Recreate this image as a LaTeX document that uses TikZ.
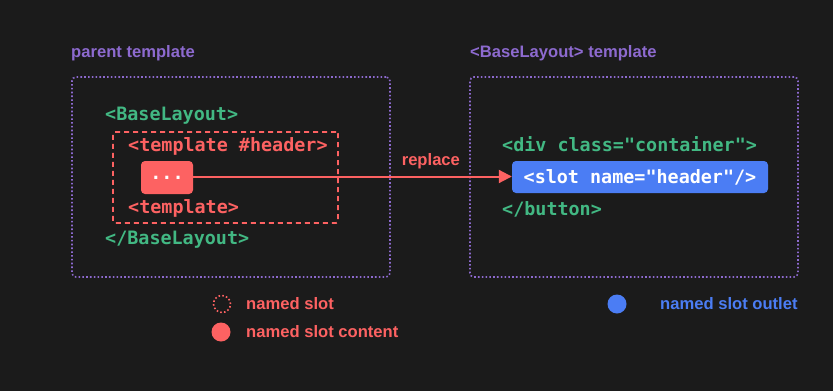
\documentclass[tikz,border=0pt]{standalone}
\usepackage{fontspec}
\setmainfont{Liberation Sans}
\newfontfamily\codefont{DejaVu Sans Mono}
\usetikzlibrary{arrows.meta}

\definecolor{bg}{HTML}{1B1B1B}
\definecolor{vuepurple}{HTML}{8D6ACF}
\definecolor{vuegreen}{HTML}{42B883}
\definecolor{slotred}{HTML}{FD6262}
\definecolor{slotblue}{HTML}{4B7DF4}

\begin{document}
\begin{tikzpicture}[x=1pt, y=-1pt, >={Triangle[length=13pt, width=13pt]},
  code/.style={anchor=base west, inner sep=0pt,
    font=\codefont\bfseries\fontsize{18.4pt}{22pt}\selectfont},
  caption/.style={anchor=base west, inner sep=0pt,
    font=\bfseries\fontsize{16.6pt}{19pt}\selectfont},
  frame/.style={draw=vuepurple, line width=1.6pt, inner sep=0pt,
    dash pattern=on 1.6pt off 2.2pt, rounded corners=4pt},
  chip/.style={rounded corners=4pt, inner sep=0pt, text=white,
    font=\codefont\bfseries\fontsize{18.4pt}{22pt}\selectfont},
  dot/.style={circle, inner sep=0pt, minimum size=19pt}]

\fill[bg] (0,0) rectangle (833,391);

% --- parent template (left) ---
\node[caption, text=vuepurple] (ptitle) at (71,57) {parent template};
\node[frame, minimum width=318pt, minimum height=200pt] (pbox) at (231,177) {};

\node[code, text=vuegreen] (popen) at (105,120) {<BaseLayout>};
\node[draw=slotred, line width=1.8pt, dash pattern=on 5pt off 4pt,
  rounded corners=2pt, minimum width=225pt, minimum height=91pt]
  (hdrbox) at (225.5,177.5) {};
\node[code, text=slotred] (hopen) at (128,151.5) {<template \#header>};
\node[chip, fill=slotred, minimum width=52pt, minimum height=33pt]
  (content) at (167,177.5) {...};
\node[code, text=slotred] (hclose) at (128,213.5) {<template>};
\node[code, text=vuegreen] (pclose) at (105,244) {</BaseLayout>};

% --- <BaseLayout> template (right) ---
\node[caption, text=vuepurple] (ctitle) at (470,57) {<BaseLayout> template};
\node[frame, minimum width=328pt, minimum height=200pt] (cbox) at (634,177) {};

\node[code, text=vuegreen] (divopen) at (502,151.5) {<div class="container">};
\node[chip, fill=slotblue, minimum width=256pt, minimum height=32pt]
  (outlet) at (640,177) {<slot name="header"/>};
\node[code, text=vuegreen] (divclose) at (502,215.5) {</button>};

% Replace arrow
\draw[->, slotred, line width=2pt] ([yshift=1pt]content.east) -- ([yshift=1pt]content.east -| outlet.west)
  node[caption, pos=0.746, anchor=base, yshift=11pt] (repl) {replace};

% --- Legend ---
\node[dot, draw=slotred, line width=1.6pt, dash pattern=on 1.6pt off 2.2pt,
  minimum size=17pt] (lslot) at (222,304) {};
\node[caption, text=slotred] (lslottxt) at (246,309.5) {named slot};
\node[dot, fill=slotred] (lcontent) at (221,332) {};
\node[caption, text=slotred] (lcontenttxt) at (246,337.5) {named slot content};
\node[dot, fill=slotblue] (loutlet) at (617,304) {};
\node[caption, text=slotblue] (loutlettxt) at (660,309.5) {named slot outlet};

\end{tikzpicture}
\end{document}
